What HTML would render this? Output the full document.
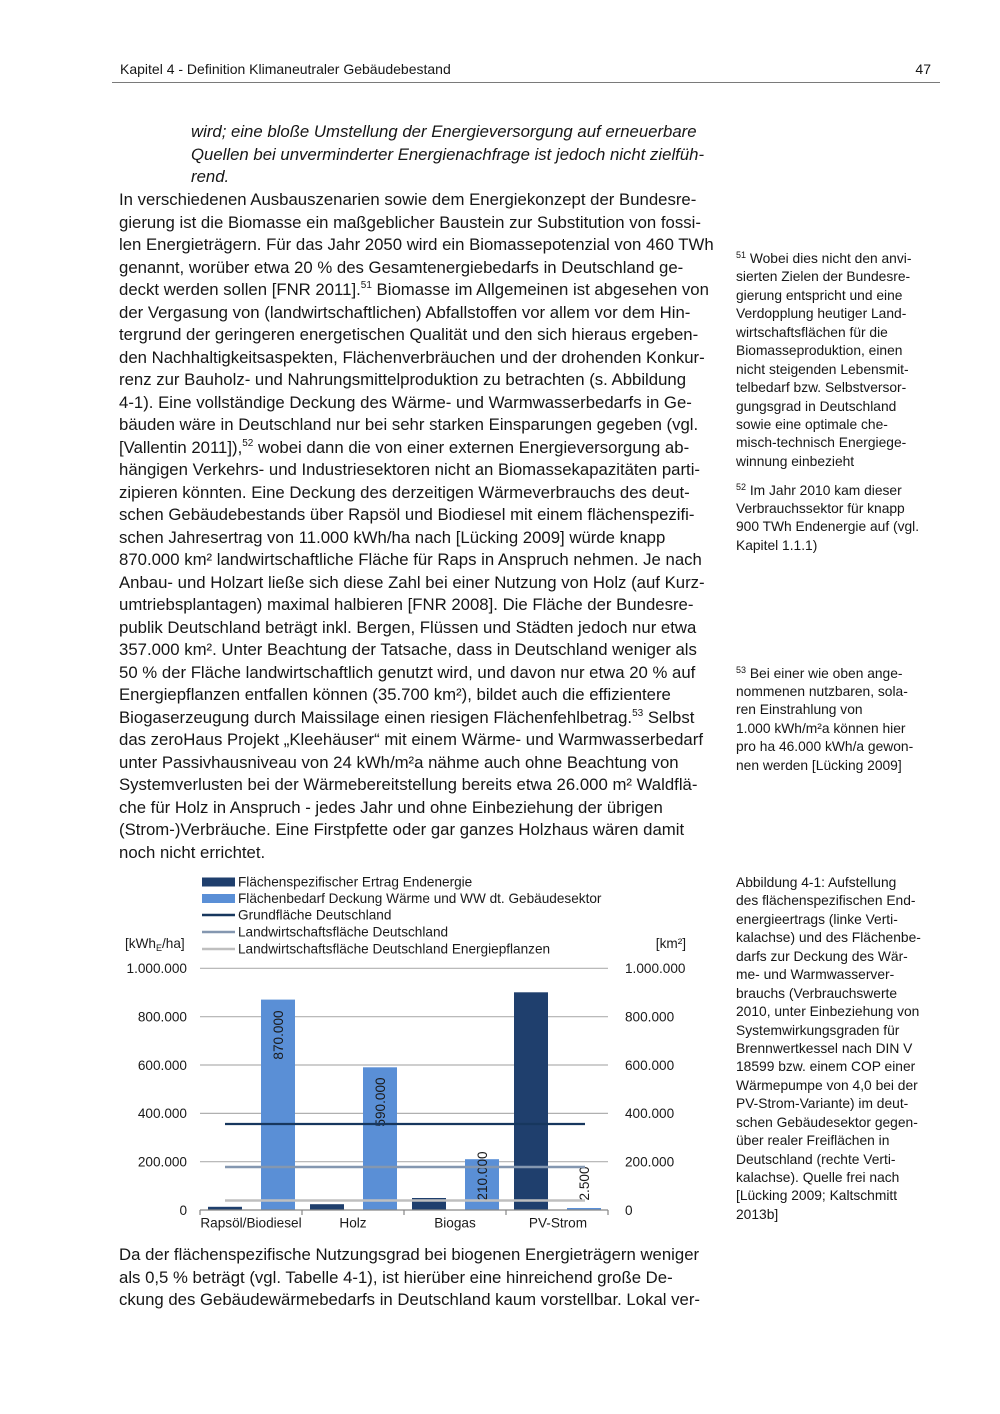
<!DOCTYPE html>
<html>
<head>
<meta charset="utf-8">
<style>
  html,body{margin:0;padding:0;}
  body{width:1000px;height:1414px;background:#fff;position:relative;overflow:hidden;
       font-family:"Liberation Sans",sans-serif;color:#161616;}
  .abs{position:absolute;}
  .main{position:absolute;left:119px;font-size:16.75px;line-height:22.52px;white-space:nowrap;}
  .main div{height:22.52px;}
  .it{font-style:italic;}
  .sup{font-size:10px;position:relative;top:-7px;line-height:0;}
  .side{position:absolute;left:736px;font-size:13.8px;line-height:18.45px;white-space:nowrap;}
  .side div{height:18.45px;}
  .fsup{font-size:9px;position:relative;top:-5px;line-height:0;}
</style>
</head>
<body>

<!-- header -->
<div class="abs" style="left:120px;top:59.5px;font-size:14px;line-height:18px;white-space:nowrap;">Kapitel 4 - Definition Klimaneutraler Gebäudebestand</div>
<div class="abs" style="right:69px;top:59.5px;font-size:14px;line-height:18px;">47</div>
<div class="abs" style="left:112px;top:82px;width:828px;height:0;border-top:1.3px solid #7a7a7a;"></div>

<!-- italic quote end -->
<div class="main it" style="left:191px;top:121px;">
  <div>wird; eine bloße Umstellung der Energieversorgung auf erneuerbare</div>
  <div>Quellen bei unverminderter Energienachfrage ist jedoch nicht zielfüh-</div>
  <div>rend.</div>
</div>

<!-- main paragraph -->
<div class="main" style="top:189px;">
  <div>In verschiedenen Ausbauszenarien sowie dem Energiekonzept der Bundesre-</div>
  <div>gierung ist die Biomasse ein maßgeblicher Baustein zur Substitution von fossi-</div>
  <div>len Energieträgern. Für das Jahr 2050 wird ein Biomassepotenzial von 460 TWh</div>
  <div>genannt, worüber etwa 20 % des Gesamtenergiebedarfs in Deutschland ge-</div>
  <div>deckt werden sollen [FNR 2011].<span class="sup">51</span> Biomasse im Allgemeinen ist abgesehen von</div>
  <div>der Vergasung von (landwirtschaftlichen) Abfallstoffen vor allem vor dem Hin-</div>
  <div>tergrund der geringeren energetischen Qualität und den sich hieraus ergeben-</div>
  <div>den Nachhaltigkeitsaspekten, Flächenverbräuchen und der drohenden Konkur-</div>
  <div>renz zur Bauholz- und Nahrungsmittelproduktion zu betrachten (s. Abbildung</div>
  <div>4-1). Eine vollständige Deckung des Wärme- und Warmwasserbedarfs in Ge-</div>
  <div>bäuden wäre in Deutschland nur bei sehr starken Einsparungen gegeben (vgl.</div>
  <div>[Vallentin 2011]),<span class="sup">52</span> wobei dann die von einer externen Energieversorgung ab-</div>
  <div>hängigen Verkehrs- und Industriesektoren nicht an Biomassekapazitäten parti-</div>
  <div>zipieren könnten. Eine Deckung des derzeitigen Wärmeverbrauchs des deut-</div>
  <div>schen Gebäudebestands über Rapsöl und Biodiesel mit einem flächenspezifi-</div>
  <div>schen Jahresertrag von 11.000 kWh/ha nach [Lücking 2009] würde knapp</div>
  <div>870.000 km² landwirtschaftliche Fläche für Raps in Anspruch nehmen. Je nach</div>
  <div>Anbau- und Holzart ließe sich diese Zahl bei einer Nutzung von Holz (auf Kurz-</div>
  <div>umtriebsplantagen) maximal halbieren [FNR 2008]. Die Fläche der Bundesre-</div>
  <div>publik Deutschland beträgt inkl. Bergen, Flüssen und Städten jedoch nur etwa</div>
  <div>357.000 km². Unter Beachtung der Tatsache, dass in Deutschland weniger als</div>
  <div>50 % der Fläche landwirtschaftlich genutzt wird, und davon nur etwa 20 % auf</div>
  <div>Energiepflanzen entfallen können (35.700 km²), bildet auch die effizientere</div>
  <div>Biogaserzeugung durch Maissilage einen riesigen Flächenfehlbetrag.<span class="sup">53</span> Selbst</div>
  <div>das zeroHaus Projekt „Kleehäuser“ mit einem Wärme- und Warmwasserbedarf</div>
  <div>unter Passivhausniveau von 24 kWh/m²a nähme auch ohne Beachtung von</div>
  <div>Systemverlusten bei der Wärmebereitstellung bereits etwa 26.000 m² Waldflä-</div>
  <div>che für Holz in Anspruch - jedes Jahr und ohne Einbeziehung der übrigen</div>
  <div>(Strom-)Verbräuche. Eine Firstpfette oder gar ganzes Holzhaus wären damit</div>
  <div>noch nicht errichtet.</div>
</div>

<!-- bottom paragraph -->
<div class="main" style="top:1244px;">
  <div>Da der flächenspezifische Nutzungsgrad bei biogenen Energieträgern weniger</div>
  <div>als 0,5 % beträgt (vgl. Tabelle 4-1), ist hierüber eine hinreichend große De-</div>
  <div>ckung des Gebäudewärmebedarfs in Deutschland kaum vorstellbar. Lokal ver-</div>
</div>

<!-- side notes -->
<div class="side" style="top:250px;">
  <div><span class="fsup">51</span> Wobei dies nicht den anvi-</div>
  <div>sierten Zielen der Bundesre-</div>
  <div>gierung entspricht und eine</div>
  <div>Verdopplung heutiger Land-</div>
  <div>wirtschaftsflächen für die</div>
  <div>Biomasseproduktion, einen</div>
  <div>nicht steigenden Lebensmit-</div>
  <div>telbedarf bzw. Selbstversor-</div>
  <div>gungsgrad in Deutschland</div>
  <div>sowie eine optimale che-</div>
  <div>misch-technisch Energiege-</div>
  <div>winnung einbezieht</div>
</div>
<div class="side" style="top:481.5px;">
  <div><span class="fsup">52</span> Im Jahr 2010 kam dieser</div>
  <div>Verbrauchssektor für knapp</div>
  <div>900 TWh Endenergie auf (vgl.</div>
  <div>Kapitel 1.1.1)</div>
</div>
<div class="side" style="top:664.5px;">
  <div><span class="fsup">53</span> Bei einer wie oben ange-</div>
  <div>nommenen nutzbaren, sola-</div>
  <div>ren Einstrahlung von</div>
  <div>1.000 kWh/m²a können hier</div>
  <div>pro ha 46.000 kWh/a gewon-</div>
  <div>nen werden [Lücking 2009]</div>
</div>
<div class="side" style="top:874px;">
  <div>Abbildung 4-1: Aufstellung</div>
  <div>des flächenspezifischen End-</div>
  <div>energieertrags (linke Verti-</div>
  <div>kalachse) und des Flächenbe-</div>
  <div>darfs zur Deckung des Wär-</div>
  <div>me- und Warmwasserver-</div>
  <div>brauchs (Verbrauchswerte</div>
  <div>2010, unter Einbeziehung von</div>
  <div>Systemwirkungsgraden für</div>
  <div>Brennwertkessel nach DIN V</div>
  <div>18599 bzw. einem COP einer</div>
  <div>Wärmepumpe von 4,0 bei der</div>
  <div>PV-Strom-Variante) im deut-</div>
  <div>schen Gebäudesektor gegen-</div>
  <div>über realer Freiflächen in</div>
  <div>Deutschland (rechte Verti-</div>
  <div>kalachse). Quelle frei nach</div>
  <div>[Lücking 2009; Kaltschmitt</div>
  <div>2013b]</div>
</div>

<!-- chart -->
<svg class="abs" style="left:100px;top:860px;" width="620" height="380" viewBox="100 860 620 380" xmlns="http://www.w3.org/2000/svg" font-family="Liberation Sans, sans-serif" font-size="13.6" fill="#1a1a1a">
  <!-- legend -->
  <rect x="202" y="877.5" width="33" height="9" fill="#1f3f6d"/>
  <text x="238" y="886.5">Flächenspezifischer Ertrag Endenergie</text>
  <rect x="202" y="894" width="33" height="9" fill="#5a8fd6"/>
  <text x="238" y="903">Flächenbedarf Deckung Wärme und WW dt. Gebäudesektor</text>
  <line x1="202" y1="915" x2="235" y2="915" stroke="#17375e" stroke-width="2.5"/>
  <text x="238" y="919.5">Grundfläche Deutschland</text>
  <line x1="202" y1="932" x2="235" y2="932" stroke="#8497b0" stroke-width="2.5"/>
  <text x="238" y="936.5">Landwirtschaftsfläche Deutschland</text>
  <line x1="202" y1="949" x2="235" y2="949" stroke="#bfbfbf" stroke-width="2.5"/>
  <text x="238" y="953.5">Landwirtschaftsfläche Deutschland Energiepflanzen</text>

  <!-- axis titles -->
  <text x="125" y="948">[kWh<tspan font-size="9" dy="3">E</tspan><tspan dy="-3">/ha]</tspan></text>
  <text x="686" y="948" text-anchor="end">[km²]</text>

  <!-- gridlines -->
  <g stroke="#b0b0b0" stroke-width="1.2">
    <line x1="200" y1="968.3" x2="608" y2="968.3"/>
    <line x1="200" y1="1016.7" x2="608" y2="1016.7"/>
    <line x1="200" y1="1065" x2="608" y2="1065"/>
    <line x1="200" y1="1113.4" x2="608" y2="1113.4"/>
    <line x1="200" y1="1161.7" x2="608" y2="1161.7"/>
  </g>

  <!-- left labels -->
  <g text-anchor="end">
    <text x="187" y="973">1.000.000</text>
    <text x="187" y="1021.5">800.000</text>
    <text x="187" y="1069.8">600.000</text>
    <text x="187" y="1118.2">400.000</text>
    <text x="187" y="1166.5">200.000</text>
    <text x="187" y="1214.8">0</text>
  </g>
  <!-- right labels -->
  <g>
    <text x="625" y="973">1.000.000</text>
    <text x="625" y="1021.5">800.000</text>
    <text x="625" y="1069.8">600.000</text>
    <text x="625" y="1118.2">400.000</text>
    <text x="625" y="1166.5">200.000</text>
    <text x="625" y="1214.8">0</text>
  </g>

  <!-- bars dark -->
  <g fill="#1f3f6d">
    <rect x="208" y="1206.8" width="34" height="3.2"/>
    <rect x="310" y="1204.2" width="34" height="5.8"/>
    <rect x="412" y="1198" width="34" height="12"/>
    <rect x="514" y="992.3" width="34" height="217.7"/>
  </g>
  <!-- bars light -->
  <g fill="#5a8fd6">
    <rect x="261" y="999.6" width="34" height="210.4"/>
    <rect x="363" y="1067.3" width="34" height="142.7"/>
    <rect x="465" y="1159.2" width="34" height="50.8"/>
    <rect x="567" y="1208" width="34" height="2"/>
  </g>

  <!-- axis -->
  <g stroke="#868686" stroke-width="1.2">
    <line x1="200" y1="1210" x2="608" y2="1210"/>
    <line x1="200" y1="1210" x2="200" y2="1215"/>
    <line x1="302" y1="1210" x2="302" y2="1215"/>
    <line x1="404" y1="1210" x2="404" y2="1215"/>
    <line x1="506" y1="1210" x2="506" y2="1215"/>
    <line x1="608" y1="1210" x2="608" y2="1215"/>
  </g>

  <!-- data labels -->
  <g text-anchor="middle">
    <text transform="translate(278,1035) rotate(-90)" dy="0.36em">870.000</text>
    <text transform="translate(380,1102) rotate(-90)" dy="0.36em">590.000</text>
    <text transform="translate(482,1176) rotate(-90)" dy="0.36em">210.000</text>
    <text transform="translate(584,1183.5) rotate(-90)" dy="0.36em">2.500</text>
  </g>

  <!-- horizontal series lines -->
  <line x1="225" y1="1124" x2="585" y2="1124" stroke="#17375e" stroke-width="2.2"/>
  <line x1="225" y1="1167" x2="585" y2="1167" stroke="#8497b0" stroke-width="2.5"/>
  <line x1="225" y1="1200.5" x2="585" y2="1200.5" stroke="#bfbfbf" stroke-width="2.5"/>

  <!-- category labels -->
  <g text-anchor="middle">
    <text x="251" y="1227.5">Rapsöl/Biodiesel</text>
    <text x="353" y="1227.5">Holz</text>
    <text x="455" y="1227.5">Biogas</text>
    <text x="558" y="1227.5">PV-Strom</text>
  </g>
</svg>

</body>
</html>
